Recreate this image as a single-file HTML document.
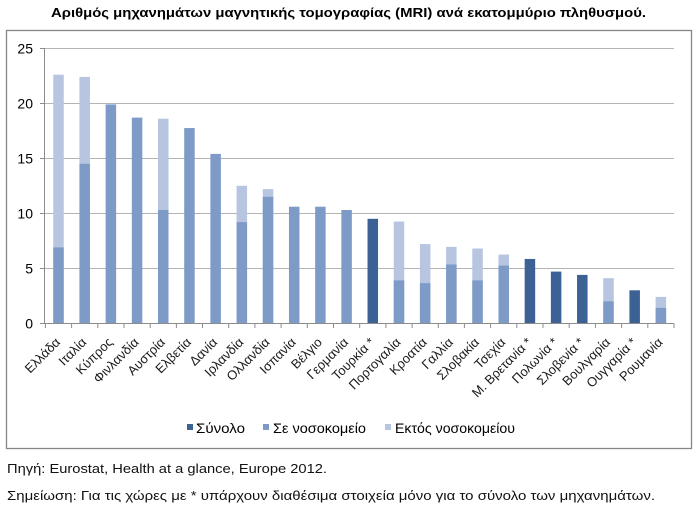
<!DOCTYPE html>
<html><head><meta charset="utf-8"><style>
html,body{margin:0;padding:0;background:#fff;}
svg{display:block;}
text{font-family:"Liberation Sans",Arial,sans-serif;}
</style></head><body>
<svg width="699" height="507" viewBox="0 0 699 507" xmlns="http://www.w3.org/2000/svg">
<rect x="0" y="0" width="699" height="507" fill="#fff"/>
<text x="348.5" y="17" text-anchor="middle" font-size="13" font-weight="bold" fill="#000" textLength="595" lengthAdjust="spacingAndGlyphs">Αριθμός μηχανημάτων μαγνητικής τομογραφίας (MRI) ανά εκατομμύριο πληθυσμού.</text>
<rect x="6.5" y="30.5" width="685" height="418" fill="#fff" stroke="#868686" stroke-width="1.3"/>
<g stroke="#b4b4b4" stroke-width="1">
<line x1="44" y1="48.5" x2="674" y2="48.5"/>
<line x1="44" y1="103.5" x2="674" y2="103.5"/>
<line x1="44" y1="158.5" x2="674" y2="158.5"/>
<line x1="44" y1="213.5" x2="674" y2="213.5"/>
<line x1="44" y1="268.5" x2="674" y2="268.5"/>
</g>
<g stroke="#8c8c8c" stroke-width="1">
<line x1="44.5" y1="48" x2="44.5" y2="323.5"/>
<line x1="40" y1="48.5" x2="44.5" y2="48.5"/>
<line x1="40" y1="103.5" x2="44.5" y2="103.5"/>
<line x1="40" y1="158.5" x2="44.5" y2="158.5"/>
<line x1="40" y1="213.5" x2="44.5" y2="213.5"/>
<line x1="40" y1="268.5" x2="44.5" y2="268.5"/>
<line x1="40" y1="323.5" x2="44.5" y2="323.5"/>
</g>
<g font-size="14" fill="#000" text-anchor="end">
<text x="33" y="53.5">25</text>
<text x="33" y="108.5">20</text>
<text x="33" y="163.5">15</text>
<text x="33" y="218.5">10</text>
<text x="33" y="273.5">5</text>
<text x="33" y="328.5">0</text>
</g>
<!-- bars -->
<g>
<!-- light (outside hospital totals) -->
<g fill="#b7c5e1">
<rect x="53.25" y="74.7" width="10.5" height="248.6"/>
<rect x="79.44" y="76.9" width="10.5" height="246.4"/>
<rect x="158.01" y="118.7" width="10.5" height="204.6"/>
<rect x="236.58" y="185.8" width="10.5" height="137.5"/>
<rect x="262.77" y="189.1" width="10.5" height="134.2"/>
<rect x="393.72" y="221.55" width="10.5" height="101.75"/>
<rect x="419.91" y="244.1" width="10.5" height="79.2"/>
<rect x="446.1" y="246.85" width="10.5" height="76.45"/>
<rect x="472.29" y="248.5" width="10.5" height="74.8"/>
<rect x="498.48" y="254.55" width="10.5" height="68.75"/>
<rect x="603.24" y="278.2" width="10.5" height="45.1"/>
<rect x="655.62" y="296.9" width="10.5" height="26.4"/>
</g>
<!-- medium (in hospital) -->
<g fill="#7e9bc8">
<rect x="53.25" y="247.4" width="10.5" height="75.9"/>
<rect x="79.44" y="163.8" width="10.5" height="159.5"/>
<rect x="105.63" y="104.4" width="10.5" height="218.9"/>
<rect x="131.82" y="117.6" width="10.5" height="205.7"/>
<rect x="158.01" y="210" width="10.5" height="113.3"/>
<rect x="184.2" y="128.05" width="10.5" height="195.25"/>
<rect x="210.39" y="153.9" width="10.5" height="169.4"/>
<rect x="236.58" y="222.1" width="10.5" height="101.2"/>
<rect x="262.77" y="196.8" width="10.5" height="126.5"/>
<rect x="288.96" y="206.7" width="10.5" height="116.6"/>
<rect x="315.15" y="206.7" width="10.5" height="116.6"/>
<rect x="341.34" y="210" width="10.5" height="113.3"/>
<rect x="393.72" y="280.4" width="10.5" height="42.9"/>
<rect x="419.91" y="283.15" width="10.5" height="40.15"/>
<rect x="446.1" y="264.45" width="10.5" height="58.85"/>
<rect x="472.29" y="280.4" width="10.5" height="42.9"/>
<rect x="498.48" y="265.55" width="10.5" height="57.75"/>
<rect x="603.24" y="301.3" width="10.5" height="22"/>
<rect x="655.62" y="307.9" width="10.5" height="15.4"/>
</g>
<!-- dark (total only) -->
<g fill="#3b6195">
<rect x="367.53" y="218.8" width="10.5" height="104.5"/>
<rect x="524.67" y="258.95" width="10.5" height="64.35"/>
<rect x="550.86" y="271.6" width="10.5" height="51.7"/>
<rect x="577.05" y="274.9" width="10.5" height="48.4"/>
<rect x="629.43" y="290.3" width="10.5" height="33"/>
</g>
</g>
<!-- x axis -->
<g stroke="#8c8c8c" stroke-width="1">
<line x1="44" y1="323.5" x2="674" y2="323.5"/>
<line x1="45.4" y1="323.5" x2="45.4" y2="328"/>
<line x1="71.6" y1="323.5" x2="71.6" y2="328"/>
<line x1="97.8" y1="323.5" x2="97.8" y2="328"/>
<line x1="124" y1="323.5" x2="124" y2="328"/>
<line x1="150.2" y1="323.5" x2="150.2" y2="328"/>
<line x1="176.4" y1="323.5" x2="176.4" y2="328"/>
<line x1="202.5" y1="323.5" x2="202.5" y2="328"/>
<line x1="228.7" y1="323.5" x2="228.7" y2="328"/>
<line x1="254.9" y1="323.5" x2="254.9" y2="328"/>
<line x1="281.1" y1="323.5" x2="281.1" y2="328"/>
<line x1="307.3" y1="323.5" x2="307.3" y2="328"/>
<line x1="333.5" y1="323.5" x2="333.5" y2="328"/>
<line x1="359.7" y1="323.5" x2="359.7" y2="328"/>
<line x1="385.9" y1="323.5" x2="385.9" y2="328"/>
<line x1="412.1" y1="323.5" x2="412.1" y2="328"/>
<line x1="438.3" y1="323.5" x2="438.3" y2="328"/>
<line x1="464.4" y1="323.5" x2="464.4" y2="328"/>
<line x1="490.6" y1="323.5" x2="490.6" y2="328"/>
<line x1="516.8" y1="323.5" x2="516.8" y2="328"/>
<line x1="543" y1="323.5" x2="543" y2="328"/>
<line x1="569.2" y1="323.5" x2="569.2" y2="328"/>
<line x1="595.4" y1="323.5" x2="595.4" y2="328"/>
<line x1="621.6" y1="323.5" x2="621.6" y2="328"/>
<line x1="647.8" y1="323.5" x2="647.8" y2="328"/>
<line x1="674" y1="323.5" x2="674" y2="328"/>
</g>
<g font-size="13" fill="#1a1a1a" text-anchor="end">
<text transform="translate(61,343) rotate(-45)">Ελλάδα</text>
<text transform="translate(87.2,343) rotate(-45)">Ιταλία</text>
<text transform="translate(113.4,343) rotate(-45)">Κύπρος</text>
<text transform="translate(139.6,343) rotate(-45)">Φινλανδία</text>
<text transform="translate(165.8,343) rotate(-45)">Αυστρία</text>
<text transform="translate(191.9,343) rotate(-45)">Ελβετία</text>
<text transform="translate(218.1,343) rotate(-45)">Δανία</text>
<text transform="translate(244.3,343) rotate(-45)">Ιρλανδία</text>
<text transform="translate(270.5,343) rotate(-45)">Ολλανδία</text>
<text transform="translate(296.7,343) rotate(-45)">Ισπανία</text>
<text transform="translate(322.9,343) rotate(-45)">Βέλγιο</text>
<text transform="translate(349.1,343) rotate(-45)">Γερμανία</text>
<text transform="translate(375.3,343) rotate(-45)">Τουρκία *</text>
<text transform="translate(401.5,343) rotate(-45)">Πορτογαλία</text>
<text transform="translate(427.7,343) rotate(-45)">Κροατία</text>
<text transform="translate(453.9,343) rotate(-45)">Γαλλία</text>
<text transform="translate(480,343) rotate(-45)">Σλοβακία</text>
<text transform="translate(506.2,343) rotate(-45)">Τσεχία</text>
<text transform="translate(532.4,343) rotate(-45)">Μ. Βρετανία *</text>
<text transform="translate(558.6,343) rotate(-45)">Πολωνία *</text>
<text transform="translate(584.8,343) rotate(-45)">Σλοβενία *</text>
<text transform="translate(611,343) rotate(-45)">Βουλγαρία</text>
<text transform="translate(637.2,343) rotate(-45)">Ουγγαρία *</text>
<text transform="translate(663.4,343) rotate(-45)">Ρουμανία</text>
</g>
<!-- legend -->
<rect x="187" y="424" width="6" height="6" fill="#3b6195"/>
<text x="196" y="433" font-size="14" fill="#000" textLength="49" lengthAdjust="spacingAndGlyphs">Σύνολο</text>
<rect x="263" y="424" width="6" height="6" fill="#7e9bc8"/>
<text x="273" y="433" font-size="14" fill="#000" textLength="93" lengthAdjust="spacingAndGlyphs">Σε νοσοκομείο</text>
<rect x="385" y="424" width="6" height="6" fill="#b7c5e1"/>
<text x="395" y="433" font-size="14" fill="#000" textLength="120" lengthAdjust="spacingAndGlyphs">Εκτός νοσοκομείου</text>
<!-- footer -->
<text x="7" y="473" font-size="13" fill="#111" textLength="320" lengthAdjust="spacingAndGlyphs">Πηγή: Eurostat, Health at a glance, Europe 2012.</text>
<text x="7" y="500" font-size="13" fill="#111" textLength="648" lengthAdjust="spacingAndGlyphs">Σημείωση: Για τις χώρες με * υπάρχουν διαθέσιμα στοιχεία μόνο για το σύνολο των μηχανημάτων.</text>
</svg>
</body></html>
